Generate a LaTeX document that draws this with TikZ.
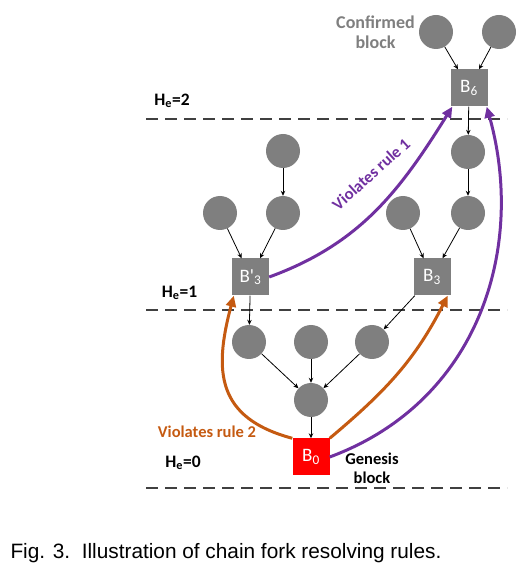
\documentclass[tikz,border=0pt]{standalone}
\usepackage{fontspec}
\setmainfont{Carlito}
\newfontfamily\capfont{Liberation Sans}
\usepackage{xcolor}
\usetikzlibrary{positioning, shapes, arrows.meta, calc}
\definecolor{blkgray}{HTML}{7F7F7F}
\definecolor{rulepurple}{HTML}{7030A0}
\definecolor{ruleorange}{HTML}{C55A11}
\definecolor{genred}{HTML}{FF0000}

\begin{document}
\begin{tikzpicture}[x=1pt, y=1pt,
  blk/.style={circle, fill=blkgray, minimum size=34pt, inner sep=0pt},
  sq/.style={rectangle, fill=#1, minimum size=37pt, inner sep=0pt, text=white, font=\fontsize{19}{19}\selectfont},
  edg/.style={-{Stealth[length=5pt, width=4.5pt]}, line width=0.8pt},
  rul/.style={-{Triangle[length=11pt, width=10pt]}, line width=3pt, draw=#1},
  lvl/.style={dash pattern=on 12pt off 7pt, line width=1.2pt, draw=black!75},
  lbl/.style={font=\fontsize{16.5}{19.5}\selectfont\bfseries, align=center},
  hlbl/.style={font=\fontsize{17.5}{19.5}\selectfont\bfseries},
]
\useasboundingbox (0,0) rectangle (522,566);

% ── height levels ──
\draw[lvl] (146,447) -- (507,447);
\draw[lvl] (146,256) -- (507,256);
\draw[lvl] (146,78) -- (507,78);
\node[hlbl] (h2) at (172,465) {H\textsubscript{e}=2};
\node[hlbl] (h1) at (179.5,273) {H\textsubscript{e}=1};
\node[hlbl] (h0) at (183,103) {H\textsubscript{e}=0};

% ── blocks ──
\node[blk] (t1) at (436,534) {};
\node[blk] (t2) at (499,534) {};
\node[sq=blkgray] (B6) at (469,478) {B\textsubscript{6}};
\node[blk] (r1) at (468,414) {};
\node[blk] (r2) at (468,353) {};
\node[blk] (r3) at (403,353) {};
\node[blk] (l1) at (283,415) {};
\node[blk] (l2) at (283,353) {};
\node[blk] (l3) at (220,353) {};
\node[sq=blkgray] (B3p) at (250.5,289) {B\textquotesingle\textsubscript{3}};
\node[sq=blkgray] (B3) at (432,289) {B\textsubscript{3}};
\node[blk] (m1) at (249,224) {};
\node[blk] (m2) at (311,224) {};
\node[blk] (m3) at (372,224) {};
\node[blk] (m4) at (311,166) {};
\node[sq=genred] (B0) at (311,109) {B\textsubscript{0}};

% ── parent links ──
\draw[edg] (t1) -- (B6);
\draw[edg] (t2) -- (B6);
\draw[edg] (B6) -- (r1);
\draw[edg] (r1) -- (r2);
\draw[edg] (r2) -- (B3);
\draw[edg] (r3) -- (B3);
\draw[edg] (l1) -- (l2);
\draw[edg] (l2) -- (B3p);
\draw[edg] (l3) -- (B3p);
\draw[edg] (B3p) -- (m1);
\draw[edg] (B3) -- (m3);
\draw[edg] (m1) -- (m4);
\draw[edg] (m2) -- (m4);
\draw[edg] (m3) -- (m4);
\draw[edg] (m4) -- (B0);

% ── rule violations ──
\draw[rul=ruleorange] (B0.north west) to[out=165, in=-105, looseness=1.3] ([xshift=2pt]B3p.south west);
\draw[rul=ruleorange] (B0.north east) to[out=40, in=-117] ([xshift=-3pt]B3.south east);
\draw[rul=rulepurple] (B3p.east) to[out=20, in=-122] ([xshift=2pt]B6.south west);
\draw[rul=rulepurple] (B0.east) .. controls +(151,56) and +(39,-139) .. ([xshift=-1pt]B6.south east);

% ── annotations ──
\node[lbl, text=blkgray, font=\fontsize{18}{19.5}\selectfont\bfseries] (conf) at (375.5,534) {Confirmed\\block};
\node[lbl] (gen) at (372,97.5) {Genesis\\block};
\node[lbl, text=ruleorange] (v2) at (207,134) {Violates rule 2};
\node[lbl, text=rulepurple, rotate=42] (v1) at (371,392) {Violates rule 1};
\node[font=\capfont\fontsize{20.8}{24}\selectfont, anchor=base west] (cap) at (7,7) {Fig. 3.\ \ Illustration of chain fork resolving rules.};
\end{tikzpicture}
\end{document}
